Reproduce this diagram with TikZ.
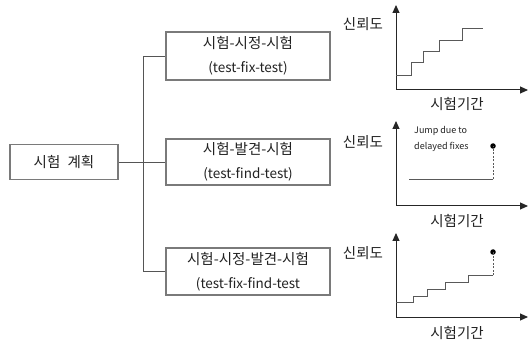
\documentclass[tikz,border=0pt]{standalone}
\usepackage{fontspec}
\setmainfont{Noto Sans CJK KR}
\usetikzlibrary{arrows.meta}
\definecolor{boxgray}{HTML}{7A7A7A}
\definecolor{linegray}{HTML}{555555}
\definecolor{txt}{HTML}{222222}
\begin{document}
\begin{tikzpicture}[x=1pt,y=-1pt,
  box/.style={draw=boxgray, line width=1.1pt, fill=white, inner sep=0pt, align=center,
    text=txt, font=\fontsize{14.5}{24}\selectfont},
  link/.style={draw=linegray, line width=0.9pt},
  axis/.style={draw=black!85, line width=1pt, -{Triangle[length=8pt,width=7pt]}},
  curve/.style={draw=black!65, line width=0.9pt},
  dashline/.style={draw=black!65, line width=0.9pt, dash pattern=on 2pt off 1.5pt},
  ylab/.style={text=txt, font=\fontsize{14.5}{16}\selectfont, inner sep=0pt},
  xlab/.style={text=txt, font=\fontsize{14.5}{16}\selectfont, inner sep=0pt},
  note/.style={text=txt, font=\fontsize{9}{10}\selectfont, inner sep=0pt, anchor=west},
  dotmark/.style={circle, fill=black, inner sep=0pt, minimum size=5.5pt}]
\useasboundingbox (0,0) rectangle (529,344);
\fill[white] (0,0) rectangle (529,344);

% boxes
\node[box, minimum width=108pt, minimum height=35pt] (plan) at (64,162) {시험\hspace{0.5em}계획};
\node[box, minimum width=164pt, minimum height=48pt] (tft) at (248,56)
  {시험-시정-시험\\{\fontsize{13.5}{14}\selectfont (test-fix-test)}};
\node[box, minimum width=164pt, minimum height=46pt] (tfdt) at (248,162)
  {시험-발견-시험\\{\fontsize{13.5}{14}\selectfont (test-find-test)}};
\node[box, minimum width=164pt, minimum height=47pt] (tffdt) at (248,271.5)
  {시험-시정-발견-시험\\{\fontsize{13.5}{14}\selectfont (test-fix-find-test}};

% connectors
\coordinate (j) at (143,162);
\draw[link] (plan.east) -- (tfdt.west);
\draw[link] (j) |- (tft.west);
\draw[link] (j) |- (tffdt.west);

% graph 1
\coordinate (o1) at (396,90);
\coordinate (y1) at (396,5);
\coordinate (x1) at (528,90);
\draw[axis] (o1) -- (y1);
\draw[axis] (o1) -- (x1);
\draw[curve] (396,75) -- (411,75) -- (411,62.5) -- (423,62.5) -- (423,51.5) -- (439,51.5)
  -- (439,40.5) -- (462,40.5) -- (462,28.5) -- (483,28.5);
\node[ylab] (r1) at (363,24) {신뢰도};
\node[xlab] (t1) at (457,104) {시험기간};

% graph 2
\coordinate (o2) at (396,206);
\coordinate (y2) at (396,121);
\coordinate (x2) at (528,206);
\draw[axis] (o2) -- (y2);
\draw[axis] (o2) -- (x2);
\node[dotmark] (d2) at (493,146) {};
\coordinate (b2) at (493,179);
\draw[curve] (409,179) -- (b2);
\draw[dashline] (b2) -- (d2.center);
\node[note] (n2a) at (414,131) {Jump due to};
\node[note] (n2b) at (414,147) {delayed fixes};
\node[ylab] (r2) at (363,142) {신뢰도};
\node[xlab] (t2) at (457,221) {시험기간};

% graph 3
\coordinate (o3) at (396,317);
\coordinate (y3) at (396,233);
\coordinate (x3) at (528,317);
\draw[axis] (o3) -- (y3);
\draw[axis] (o3) -- (x3);
\node[dotmark] (d3) at (493,252) {};
\coordinate (b3) at (493,275);
\draw[curve] (396,302.5) -- (413,302.5) -- (413,296.5) -- (427,296.5) -- (427,289.5) -- (445,289.5)
  -- (445,282) -- (468,282) -- (468,275) -- (b3);
\draw[dashline] (b3) -- (d3.center);
\node[ylab] (r3) at (363,253) {신뢰도};
\node[xlab] (t3) at (457,333) {시험기간};
\end{tikzpicture}
\end{document}
